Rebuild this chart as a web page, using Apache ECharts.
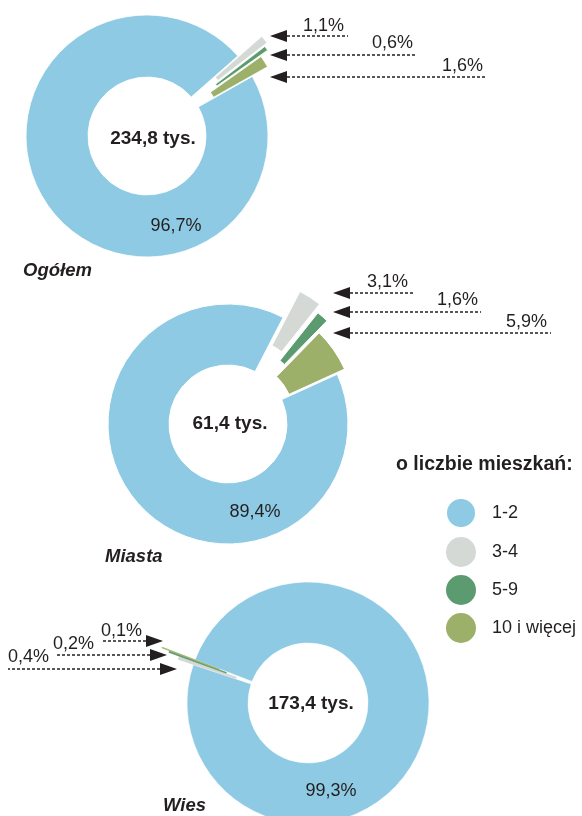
<!DOCTYPE html>
<html>
<head>
<meta charset="utf-8">
<script src="https://cdn.jsdelivr.net/npm/echarts@6/dist/echarts.min.js"></script>
<style>
  html, body { margin: 0; padding: 0; background: #fff; }
  #ec { width: 582px; height: 816px; }
</style>
</head>
<body>
<div id="ec"></div>
<script>
// kategorie gospodarstw (liczba mieszkańców)
var cats = ['1-2', '3-4', '5-9', '10 i więcej'];
var colors = ['#8ecae3', '#d5d9d6', '#5b9b6f', '#9db06a'];

// wykresy: Ogółem, Miasta, Wies
var chartNames = ['Ogółem', 'Miasta', 'Wies'];
var totals = [234.8, 61.4, 173.4];

// udział % wg kategorii
var share_1_2 = [96.7, 89.4, 99.3];
var share_3_4 = [1.1, 3.1, 0.4];
var share_5_9 = [0.6, 1.6, 0.2];
var share_10 = [1.6, 5.9, 0.1];

var ec = echarts.init(document.getElementById('ec'));
var ink = '#231f20';
var font = '"Liberation Sans", Arial, sans-serif';

// rozmieszczenie pierścieni
var layout = [
  { center: [147, 136], radius: [59, 121], start: 29.5, off: [0, 31, 27, 18], border: 0.8, selfBorder: false,
    total: [153, 139], pct: [176, 226], title: [23, 271],
    arrows: { dir: 'left', tip: [270, 270, 270], y: [36, 55, 77], end: [348, 415, 485], tx: [344, 413, 483], ty: [26, 43, 66] } },
  { center: [228, 424], radius: [59, 120], start: 24.5, off: [0, 31, 23, 9], border: 1, selfBorder: false,
    total: [230, 424], pct: [255, 512], title: [105, 557],
    arrows: { dir: 'left', tip: [333, 333, 333], y: [293, 312, 333], end: [413, 481, 551], tx: [408, 478, 547], ty: [282, 300, 322] } },
  { center: [308, 703], radius: [60, 121], start: 159, off: [0, 16, 27, 35], border: 0.6, selfBorder: true,
    total: [311, 704], pct: [331, 791], title: [163, 806],
    arrows: { dir: 'right', tip: [177, 167, 163], y: [669, 655, 641], end: [8, 57, 103], tx: [8, 53, 101], ty: [657, 644, 631] } }
];

function fmt(v) {
  return v.toFixed(1).replace('.', ',');
}

var series = [];
var graphic = [];

chartNames.forEach(function(nm, ci) {
  var L = layout[ci];
  var vals = [share_1_2[ci], share_3_4[ci], share_5_9[ci], share_10[ci]];

  // jedna seria na kategorię -> każdy wycinek może mieć własne wysunięcie
  cats.forEach(function(cat, k) {
    series.push({
      type: 'pie',
      silent: true,
      animation: false,
      z: 2,
      center: L.center,
      radius: L.radius,
      startAngle: L.start,
      clockwise: true,
      selectedMode: 'multiple',
      selectedOffset: L.off[k],
      label: { show: false },
      labelLine: { show: false },
      emphasis: { disabled: true },
      data: vals.map(function(v, j) {
        var bc = (L.selfBorder && j > 0) ? colors[j] : '#fff';
        return {
          name: cats[j],
          value: v,
          selected: j === k && k > 0,
          itemStyle: j === k
            ? { color: colors[j], borderColor: bc, borderWidth: L.border }
            : { color: 'rgba(0,0,0,0)', borderWidth: 0 }
        };
      })
    });
  });

  // suma w środku
  graphic.push({
    type: 'text', x: L.total[0], y: L.total[1], z: 10,
    style: { text: fmt(totals[ci]) + ' tys.', font: 'bold 19px ' + font, fill: ink, align: 'center', verticalAlign: 'middle' }
  });
  // udział 1-2
  graphic.push({
    type: 'text', x: L.pct[0], y: L.pct[1], z: 10,
    style: { text: fmt(vals[0]) + '%', font: '18px ' + font, fill: ink, align: 'center', verticalAlign: 'middle' }
  });
  // podpis wykresu
  graphic.push({
    type: 'text', x: L.title[0], y: L.title[1], z: 10,
    style: { text: nm, font: 'italic bold 18.5px ' + font, fill: ink, align: 'left', verticalAlign: 'middle' }
  });

  // strzałki do małych wycinków
  var A = L.arrows;
  for (var i = 0; i < 3; i++) {
    var s = A.dir === 'left' ? 1 : -1;
    var base = A.tip[i] + s * 17;
    graphic.push({
      type: 'polygon', z: 10,
      shape: { points: [[A.tip[i], A.y[i]], [base, A.y[i] - 6], [base, A.y[i] + 6]] },
      style: { fill: ink }
    });
    graphic.push({
      type: 'line', z: 10,
      shape: { x1: base, y1: A.y[i], x2: A.end[i], y2: A.y[i] },
      style: { stroke: ink, lineWidth: 1.5, lineDash: [3, 2] }
    });
    graphic.push({
      type: 'text', x: A.tx[i], y: A.ty[i], z: 10,
      style: { text: fmt(vals[i + 1]) + '%', font: '18px ' + font, fill: ink,
        align: A.dir === 'left' ? 'right' : 'left', verticalAlign: 'middle' }
    });
  }
});

// tytuł legendy
graphic.push({
  type: 'text', x: 396, y: 465, z: 10,
  style: { text: 'o liczbie mieszkań:', font: 'bold 19.5px ' + font, fill: ink, align: 'left', verticalAlign: 'middle' }
});

var option = {
  backgroundColor: '#fff',
  legend: {
    orient: 'vertical',
    left: 445,
    top: 497,
    padding: 0,
    icon: 'circle',
    itemWidth: 40,
    itemHeight: 30,
    itemGap: 8,
    selectedMode: false,
    textStyle: { fontSize: 18, fontFamily: font, color: ink, padding: [0, 0, 0, 6] },
    data: cats.map(function(c, k) {
      return { name: c, itemStyle: { color: colors[k] } };
    })
  },
  graphic: graphic,
  series: series
};
ec.setOption(option);
</script>
</body>
</html>
